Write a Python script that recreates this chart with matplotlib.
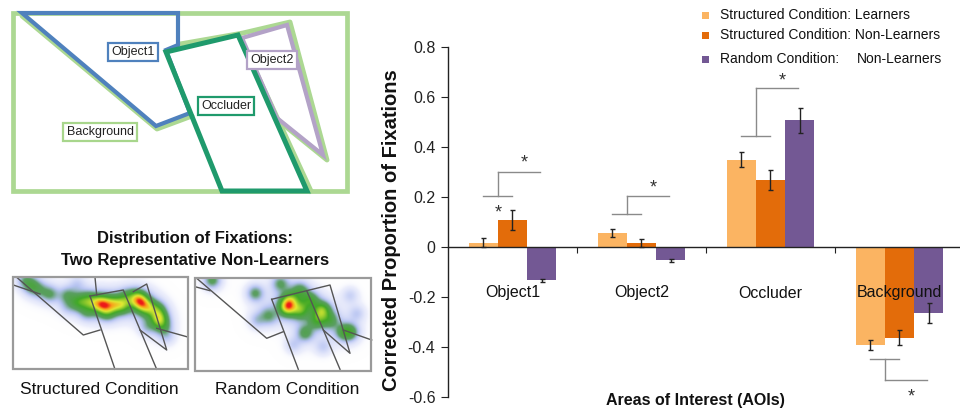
import numpy as np
import matplotlib
matplotlib.use("Agg")
import matplotlib.pyplot as plt
from matplotlib.colors import LinearSegmentedColormap
from matplotlib.patches import Polygon, Rectangle

plt.rcParams['font.family'] = ['Liberation Sans', 'DejaVu Sans']

# ---------------- data ----------------
categories = ["Object1", "Object2", "Occluder", "Background"]
series_names = ["Structured Condition: Learners",
                "Structured Condition: Non-Learners",
                "Random Condition:"]
learners = [0.018, 0.058, 0.350, -0.392]
learners_err = [0.018, 0.016, 0.030, 0.020]
nonlearners = [0.108, 0.016, 0.270, -0.362]
nonlearners_err = [0.040, 0.016, 0.040, 0.030]
random_nl = [-0.133, -0.053, 0.508, -0.262]
random_err = [0.005, 0.005, 0.050, 0.040]
yticks = [0.8, 0.6, 0.4, 0.2, 0.0, -0.2, -0.4, -0.6]
ytick_labels = ["0.8", "0.6", "0.4", "0.2", "0", "-0.2", "-0.4", "-0.6"]
# significance brackets: (category, inner level, outer level, star level)
brackets = [(0, 0.204, 0.300, 0.360), (1, 0.132, 0.204, 0.260),
            (2, 0.444, 0.636, 0.688), (3, -0.448, -0.532, -0.576)]
extra_star = (0, 0.160)

# diagram polygons (pixel coordinates of the stimulus sketch)
object1_poly = [(22, 13), (178, 13), (178, 45), (166, 50), (190, 113), (156, 126)]
object2_poly = [(242, 38), (287, 25), (323, 155), (277, 118)]
occluder_poly = [(166, 52), (238, 35), (307, 191), (222, 191)]
background_rect = [(13, 13), (347, 13), (347, 191), (13, 191)]
diagram_labels = [("Object1", 133, 52, '#4f81bd'), ("Object2", 272, 60, '#b3a2c7'),
                  ("Occluder", 226, 106, '#1f9a6c'), ("Background", 100, 132, '#a8d68c')]

# heat-map fixations (x, y, weight)
fix_structured = [(25, 280, .4), (32, 286, .5), (40, 290, .3), (50, 294, .45), (67, 295, .4),
                  (78, 302, .6), (88, 300, .6), (97, 303, .6), (103, 304, .95), (113, 304, .75),
                  (122, 305, .75), (107, 312, .5), (87, 312, .35), (127, 297, .4), (137, 297, .6),
                  (140, 302, 1.0), (147, 307, .8), (157, 310, .6), (159, 319, .95), (163, 327, .4),
                  (77, 283, .2), (67, 307, .2), (147, 327, .25), (167, 337, .2)]
fix_random = [(212, 280, .5), (255, 293, .45), (280, 283, .4), (287, 307, 1.0), (290, 300, .6),
              (300, 310, .6), (310, 300, .5), (300, 290, .4), (322, 310, .75), (317, 320, .5),
              (305, 333, .45), (343, 332, .4), (350, 332, .5), (267, 313, .2), (257, 320, .25),
              (270, 318, .2), (330, 320, .4), (293, 345, .2), (350, 295, .2), (323, 347, .2),
              (357, 313, .2)]
lines_structured = [[(16.7, 277.3), (83.3, 335), (100, 330)], [(13.3, 285), (40, 294)],
                    [(95, 277.3), (96.7, 295)], [(90, 296), (123.3, 290), (156.7, 369.3)],
                    [(90, 296), (115, 369.3)],
                    [(133.3, 291.7), (146.7, 284), (166.7, 350), (140, 330)],
                    [(156.7, 328.3), (186.7, 336.7)]]
lines_random = [[(196.7, 278.3), (266.7, 338.3), (283.3, 331.7)], [(195, 286.7), (210, 290.7)],
                [(271.7, 299.3), (306.7, 290.7), (340, 369.3)], [(271.7, 299.3), (298.3, 369.3)],
                [(306.7, 290.7), (330, 285), (350, 353.3), (323.3, 330)],
                [(343.3, 330), (371.7, 340)]]
box_structured = (13, 277, 188, 369)
box_random = (195, 278, 371, 371)

c_light = '#fbb462'
c_orange = '#e36c0a'
c_purple = '#735894'

fig = plt.figure(figsize=(9.6, 4.12), dpi=100)
ov = fig.add_axes([0, 0, 1, 1])
ov.set_xlim(0, 960)
ov.set_ylim(412, 0)
ov.axis('off')

# ---- stimulus diagram ----
green = '#acd892'
ov.add_patch(Polygon(background_rect, closed=True, fill=False, ec=green, lw=3.4, zorder=1))
ov.plot([22, 157, 192], [16, 129, 116], color=green, lw=3.5, zorder=1, solid_capstyle='round')
ov.plot([180, 243, 290, 327, 280], [44, 33, 22, 160, 122], color=green, lw=3.5, zorder=1)
ov.plot([240, 311], [37, 191], color=green, lw=3.5, zorder=1)
ov.add_patch(Polygon(object1_poly, closed=True, fill=False, ec='#4f81bd', lw=3.0, zorder=2))
ov.add_patch(Polygon(object2_poly, closed=True, fill=False, ec='#b3a2c7', lw=3.0, zorder=2))
ov.add_patch(Polygon(occluder_poly, closed=True, fill=False, ec='#1f9a6c', lw=3.6, zorder=3))
for txt, x, y, col in diagram_labels:
    ov.text(x, y, txt, ha='center', va='center', fontsize=9, color='#222', zorder=5,
            bbox=dict(boxstyle='square,pad=0.25', fc='white', ec=col, lw=1.6))

# ---- heat maps ----
cmap = LinearSegmentedColormap.from_list('heat', [
    (0.0, (1, 1, 1, 0)), (0.05, (0.8, 0.82, 0.97, 0.35)), (0.18, (0.6, 0.67, 0.93, 0.7)),
    (0.3, (0.32, 0.6, 0.35, 0.95)), (0.52, (0.25, 0.66, 0.15, 1)), (0.76, (0.88, 0.92, 0.2, 1)),
    (0.9, (0.98, 0.62, 0.1, 1)), (1.0, (0.93, 0.1, 0.1, 1))])


def heat(box, fixes, segs):
    x0, y0, x1, y1 = box
    xx, yy = np.meshgrid(np.arange(x0, x1, 0.5), np.arange(y0, y1, 0.5))
    core = np.zeros_like(xx, dtype=float)
    halo = np.zeros_like(xx, dtype=float)
    for fx, fy, w in fixes:
        d2 = (xx - fx) ** 2 + (yy - fy) ** 2
        core += w * np.exp(-d2 / (2 * 5.8 ** 2))
        halo += w * np.exp(-d2 / (2 * 12.0 ** 2))
    z = 0.9 * core / core.max() + 0.3 * halo / halo.max()
    z = np.clip(z / 1.16, 0, 1)
    ov.imshow(z, cmap=cmap, vmin=0, vmax=1, extent=(x0, x1, y1, y0), origin='upper',
              interpolation='bilinear', zorder=2)
    ov.add_patch(Rectangle((x0, y0), x1 - x0, y1 - y0, fill=False, ec='#9a9a9a', lw=1.6, zorder=4))
    for s in segs:
        xs, ys = zip(*s)
        ov.plot(xs, ys, color='#555555', lw=1.0, zorder=3)


heat(box_structured, fix_structured, lines_structured)
heat(box_random, fix_random, lines_random)
ov.set_xlim(0, 960)
ov.set_ylim(412, 0)

ov.text(195, 238, "Distribution of Fixations:", ha='center', va='center', fontsize=12,
        fontweight='bold', color='#111')
ov.text(195, 260, "Two Representative Non-Learners", ha='center', va='center', fontsize=12,
        fontweight='bold', color='#111')
ov.text(99, 390, "Structured Condition", ha='center', va='center', fontsize=12.5, color='#111')
ov.text(287, 390, "Random Condition", ha='center', va='center', fontsize=12.5, color='#111')

# ---- legend ----
legend_colors = [c_light, c_orange, c_purple]
legend_y = [15, 35, 59]
for col, name, y in zip(legend_colors, series_names, legend_y):
    ov.add_patch(Rectangle((702, y - 3.5), 7, 7, fc=col, ec='none'))
    ov.text(720, y, name, ha='left', va='center', fontsize=10, color='#111')
ov.text(857, legend_y[2], "Non-Learners", ha='left', va='center', fontsize=10, color='#111')

ov.text(695, 401, "Areas of Interest (AOIs)", ha='center', va='center', fontsize=11.5,
        fontweight='bold', color='#111')

# ---- bar chart ----
ax = fig.add_axes([448 / 960, 15 / 412, 512 / 960, 350 / 412])
ax.patch.set_alpha(0)
x = np.arange(len(categories))
bw = 0.225
ekw = dict(ecolor='#222', elinewidth=1.0, capsize=1.8, capthick=1.0)
ax.bar(x - bw, learners, bw, color=c_light, yerr=learners_err, error_kw=ekw, zorder=2)
ax.bar(x, nonlearners, bw, color=c_orange, yerr=nonlearners_err, error_kw=ekw, zorder=2)
ax.bar(x + bw, random_nl, bw, color=c_purple, yerr=random_err, error_kw=ekw, zorder=2)
ax.set_xlim(-0.5, 3.469)
ax.set_ylim(-0.6, 0.8)
ax.spines['top'].set_visible(False)
ax.spines['right'].set_visible(False)
ax.spines['bottom'].set_position(('data', 0))
ax.spines['bottom'].set_zorder(3)
for s in ('left', 'bottom'):
    ax.spines[s].set_color('#222')
    ax.spines[s].set_linewidth(1.0)
ax.set_xticks([0.5, 1.5, 2.5])
ax.set_xticklabels([])
ax.tick_params(axis='x', direction='out', length=4, color='#222')
ax.set_yticks(yticks)
ax.set_yticklabels(ytick_labels, fontsize=11.5, color='#222')
ax.tick_params(axis='y', direction='out', length=5, pad=4, color='#222')
ax.set_ylabel("Corrected Proportion of Fixations", fontsize=14.5, fontweight='bold', color='#111')
ax.yaxis.set_label_coords(-0.092, 0.477)
for i, c in enumerate(categories):
    ax.text(i, -0.184, c, ha='center', va='center', fontsize=11.5, color='#111', zorder=5)

gray = '#8a8a8a'
for ci, lo, hi, st in brackets:
    ax.plot([ci - bw, ci], [lo, lo], color=gray, lw=1.0, zorder=4)
    ax.plot([ci - bw / 2, ci - bw / 2], [lo, hi], color=gray, lw=1.0, zorder=4)
    ax.plot([ci - bw / 2, ci + bw * 0.95], [hi, hi], color=gray, lw=1.0, zorder=4)
    ax.text(ci + bw * 0.42, st - 0.04, "*", ha='center', va='baseline', fontsize=13, color='#333')
ax.text(extra_star[0] - bw / 2, extra_star[1] - 0.04, "*", ha='center', va='baseline',
        fontsize=13, color='#333')

fig.savefig("out.png", dpi=100)
